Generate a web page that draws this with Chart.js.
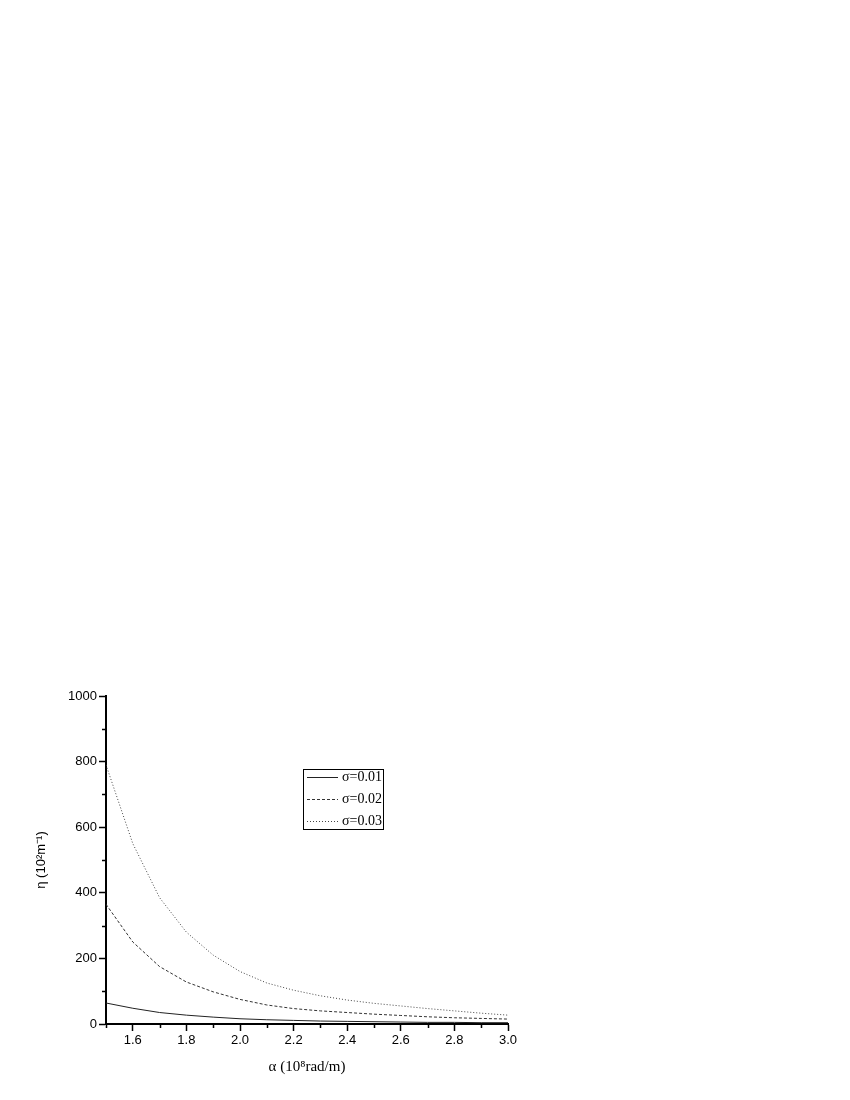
<!DOCTYPE html>
<html lang="en">
<head>
  <meta charset="UTF-8">
  <title>eta vs alpha</title>
  <script src="https://cdn.jsdelivr.net/npm/chart.js"></script>
  <style>
    body {
      background-color: white;
      margin: 0;
    }
    #chart {
      display: block;
    }
  </style>
</head>
<body>
  <canvas id="chart" width="850" height="1100"></canvas>

  <script>
    // alpha (10^8 rad/m), step 0.1
    const alpha = [1.5, 1.6, 1.7, 1.8, 1.9, 2.0, 2.1, 2.2, 2.3, 2.4, 2.5, 2.6, 2.7, 2.8, 2.9, 3.0];

    // eta (10^2 m^-1) for each sigma
    const sigma001 = [64, 48, 35, 27, 21, 16, 13, 11, 9, 8, 7, 6, 5, 5, 4, 4];
    const sigma002 = [365, 250, 175, 128, 98, 75, 58, 47, 40, 35, 30, 26, 22, 19, 17, 15];
    const sigma003 = [790, 550, 385, 280, 210, 160, 125, 103, 86, 73, 63, 55, 47, 40, 33, 27];

    const seriesLabels = ['σ=0.01', 'σ=0.02', 'σ=0.03'];

    const xTicks = [1.6, 1.8, 2.0, 2.2, 2.4, 2.6, 2.8, 3.0];
    const xMinorTicks = [1.5, 1.7, 1.9, 2.1, 2.3, 2.5, 2.7, 2.9];
    const yTicks = [0, 200, 400, 600, 800, 1000];
    const yMinorTicks = [100, 300, 500, 700, 900];

    const toPoints = vals => alpha.map((a, i) => ({ x: a, y: vals[i] }));

    // short minor ticks, placed through the scales
    const minorTicks = {
      id: 'minorTicks',
      afterDraw(chart) {
        const c = chart.ctx;
        const xs = chart.scales.x;
        const ys = chart.scales.y;
        const area = chart.chartArea;
        c.save();
        c.strokeStyle = '#000';
        c.lineWidth = 1.5;
        c.beginPath();
        xMinorTicks.forEach(v => {
          const px = Math.round(xs.getPixelForValue(v)) + 0.5;
          c.moveTo(px, area.bottom);
          c.lineTo(px, area.bottom + 4);
        });
        yMinorTicks.forEach(v => {
          const py = Math.round(ys.getPixelForValue(v)) + 0.5;
          c.moveTo(area.left, py);
          c.lineTo(area.left - 4, py);
        });
        c.stroke();
        c.restore();
      }
    };

    // boxed legend inside the plot
    const boxLegend = {
      id: 'boxLegend',
      afterDraw(chart) {
        const c = chart.ctx;
        const area = chart.chartArea;
        const left = area.left + 197;
        const top = area.top + 73;
        const w = 80, h = 60, rowH = 22;
        c.save();
        c.strokeStyle = '#000';
        c.lineWidth = 1;
        c.strokeRect(left + 0.5, top + 0.5, w, h);
        c.font = '14px "Liberation Serif", "Times New Roman", serif';
        c.textBaseline = 'middle';
        c.fillStyle = '#000';
        chart.data.datasets.forEach((ds, i) => {
          const y = Math.round(top + 8 + i * rowH) + 0.5;
          c.beginPath();
          c.setLineDash(ds.borderDash || []);
          c.strokeStyle = ds.borderColor;
          c.lineWidth = ds.borderWidth;
          c.moveTo(left + 4, y);
          c.lineTo(left + 35, y);
          c.stroke();
          c.setLineDash([]);
          c.fillText(ds.label, left + 39, y);
        });
        c.restore();
      }
    };

    const ctx = document.getElementById('chart').getContext('2d');
    const chart = new Chart(ctx, {
      type: 'line',
      data: {
        datasets: [
          {
            label: seriesLabels[0],
            data: toPoints(sigma001),
            borderColor: '#222',
            borderWidth: 1,
            borderDash: []
          },
          {
            label: seriesLabels[1],
            data: toPoints(sigma002),
            borderColor: '#333',
            borderWidth: 1,
            borderDash: [3, 2]
          },
          {
            label: seriesLabels[2],
            data: toPoints(sigma003),
            borderColor: '#444',
            borderWidth: 1,
            borderDash: [1, 2]
          }
        ]
      },
      options: {
        responsive: false,
        animation: false,
        layout: {
          padding: { left: 0, right: 342, top: 696, bottom: 0 }
        },
        elements: {
          point: { radius: 0 },
          line: { tension: 0 }
        },
        plugins: {
          legend: { display: false },
          tooltip: { enabled: false }
        },
        scales: {
          x: {
            type: 'linear',
            min: 1.5,
            max: 3.0,
            afterBuildTicks: scale => {
              scale.ticks = xTicks.map(v => ({ value: v }));
            },
            afterFit: scale => { scale.height = 76; },
            border: { color: '#000', width: 2 },
            grid: {
              drawOnChartArea: false,
              tickLength: 7,
              tickWidth: 1.5,
              tickColor: '#000'
            },
            ticks: {
              color: '#000',
              padding: 2,
              maxRotation: 0,
              font: { family: '"Liberation Sans", Arial, sans-serif', size: 13 },
              callback: v => v.toFixed(1)
            },
            title: {
              display: true,
              text: 'α (10⁸rad/m)',
              color: '#000',
              font: { family: '"Liberation Serif", "Times New Roman", serif', size: 15 },
              padding: { top: 0, bottom: 24 }
            }
          },
          y: {
            type: 'linear',
            min: 0,
            max: 1000,
            afterBuildTicks: scale => {
              scale.ticks = yTicks.map(v => ({ value: v }));
            },
            afterFit: scale => { scale.width = 106; },
            border: { color: '#000', width: 2 },
            grid: {
              drawOnChartArea: false,
              tickLength: 7,
              tickWidth: 1.5,
              tickColor: '#000'
            },
            ticks: {
              color: '#000',
              padding: 2,
              font: { family: '"Liberation Sans", Arial, sans-serif', size: 13 },
              callback: v => String(v)
            },
            title: {
              display: true,
              text: 'η (10²m⁻¹)',
              color: '#000',
              font: { family: '"Liberation Sans", Arial, sans-serif', size: 13 },
              padding: { top: 34, bottom: 0 }
            }
          }
        }
      },
      plugins: [minorTicks, boxLegend]
    });
  </script>
</body>
</html>
